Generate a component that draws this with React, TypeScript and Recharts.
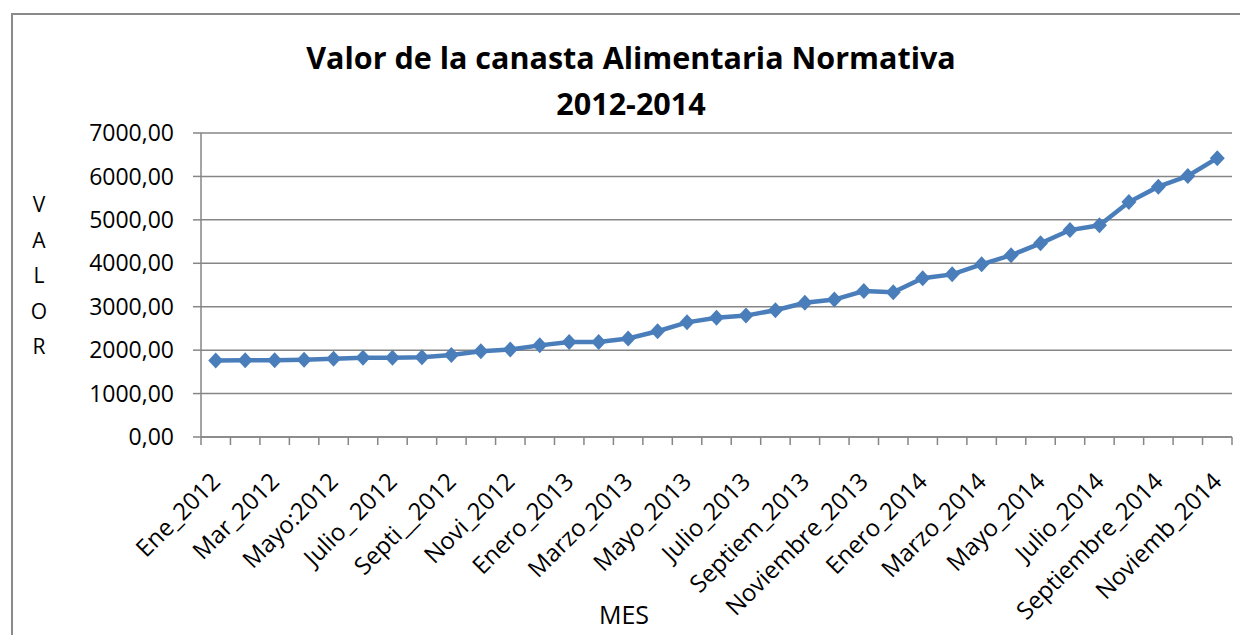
import { LineChart, Line, XAxis, YAxis, CartesianGrid } from "recharts";

const months = [
  "Ene_2012", "Feb_2012", "Mar_2012", "Abr_2012", "Mayo:2012", "Jun_2012",
  "Julio_ 2012", "Ago_2012", "Septi__2012", "Oct_2012", "Novi_2012", "Dic_2012",
  "Enero_2013", "Febrero_2013", "Marzo_2013", "Abril_2013", "Mayo_2013", "Junio_2013",
  "Julio_2013", "Agosto_2013", "Septiem_2013", "Octubre_2013", "Noviembre_2013", "Diciembre_2013",
  "Enero_2014", "Febrero_2014", "Marzo_2014", "Abril_2014", "Mayo_2014", "Junio_2014",
  "Julio_2014", "Agosto_2014", "Septiembre_2014", "Octubre_2014", "Noviemb_2014",
];

const valores = [
  1760, 1765, 1765, 1780, 1800, 1825, 1825, 1835, 1890, 1975, 2015, 2110,
  2190, 2190, 2270, 2435, 2640, 2745, 2795, 2920, 3090, 3165, 3360, 3335,
  3655, 3745, 3975, 4185, 4460, 4765, 4875, 5410, 5765, 6010, 6420,
];

const yTicks = [0, 1000, 2000, 3000, 4000, 5000, 6000, 7000];

const data = months.map((mes, i) => ({ mes, valor: valores[i] }));

const FONT = "'Open Sans', sans-serif";
const GRAY = "#868686";
const BLUE = "#4a7ebb";

// plot box inside the 1240x635 svg
const PLOT_LEFT = 201;
const PLOT_RIGHT = 1232;
const PLOT_TOP = 133;
const PLOT_BOTTOM = 437;
const BAND = (PLOT_RIGHT - PLOT_LEFT) / months.length;

function formatValor(v: number) {
  return v.toFixed(2).replace(".", ",");
}

function MonthTick(props: any) {
  const { x, y, payload, index } = props;
  const last = index === months.length - 1;
  const tx = x + 6;
  const ty = y + 46;
  return (
    <g>
      <line x1={x - BAND / 2} y1={y} x2={x - BAND / 2} y2={y + 8} stroke={GRAY} strokeWidth={1.5} />
      {last && (
        <line x1={x + BAND / 2} y1={y} x2={x + BAND / 2} y2={y + 8} stroke={GRAY} strokeWidth={1.5} />
      )}
      {index % 2 === 0 && (
        <text
          x={tx}
          y={ty}
          transform={`rotate(-45, ${tx}, ${ty})`}
          textAnchor="end"
          fontFamily={FONT}
          fontSize={24}
          fill="#000"
        >
          {payload.value}
        </text>
      )}
    </g>
  );
}

function Diamond(props: any) {
  const { cx, cy, index } = props;
  if (cx == null || cy == null) return <g key={index} />;
  return (
    <path
      key={index}
      d={`M${cx},${cy - 8} L${cx + 7.5},${cy} L${cx},${cy + 8} L${cx - 7.5},${cy} Z`}
      fill={BLUE}
    />
  );
}

export default function App() {
  return (
    <div style={{ position: "absolute", left: 0, top: 0, width: 1240, height: 635, overflow: "hidden", background: "#fff" }}>
      <div
        style={{
          position: "absolute",
          left: 11,
          top: 13,
          width: 1300,
          height: 700,
          borderLeft: "2px solid #8a8a8a",
          borderTop: "2px solid #8a8a8a",
        }}
      />
      <div
        style={{
          position: "absolute",
          left: 11,
          top: 34,
          width: 1240,
          textAlign: "center",
          fontFamily: FONT,
          fontWeight: 700,
          fontSize: 30.5,
          lineHeight: "46px",
          color: "#000",
        }}
      >
        <div>Valor de la canasta Alimentaria Normativa</div>
        <div>2012-2014</div>
      </div>
      <div
        style={{
          position: "absolute",
          left: 27,
          top: 187,
          width: 24,
          textAlign: "center",
          fontFamily: FONT,
          fontSize: 21,
          lineHeight: "35.5px",
          color: "#000",
        }}
      >
        {"VALOR".split("").map((c) => (
          <div key={c}>{c}</div>
        ))}
      </div>
      <div
        style={{
          position: "absolute",
          left: 524,
          top: 597,
          width: 200,
          textAlign: "center",
          fontFamily: FONT,
          fontSize: 25,
          lineHeight: "34px",
          color: "#000",
        }}
      >
        MES
      </div>
      <div style={{ position: "absolute", left: 0, top: 0 }}>
        <LineChart
          width={1240}
          height={635}
          data={data}
          margin={{ top: PLOT_TOP, right: 1240 - PLOT_RIGHT, bottom: 0, left: 0 }}
        >
          <CartesianGrid vertical={false} stroke={GRAY} strokeWidth={1.5} />
          <XAxis
            dataKey="mes"
            scale="band"
            interval={0}
            height={635 - PLOT_BOTTOM}
            axisLine={{ stroke: GRAY, strokeWidth: 1.5 }}
            tickLine={false}
            tickSize={0}
            tickMargin={0}
            tick={<MonthTick />}
          />
          <YAxis
            width={PLOT_LEFT}
            domain={[0, 7000]}
            ticks={yTicks}
            tickFormatter={formatValor}
            axisLine={{ stroke: GRAY, strokeWidth: 1.5 }}
            tickLine={{ stroke: GRAY, strokeWidth: 1.5 }}
            tickSize={8}
            tickMargin={19}
            tick={{ fontFamily: FONT, fontSize: 23, fill: "#000" }}
          />
          <Line
            type="linear"
            dataKey="valor"
            stroke={BLUE}
            strokeWidth={4.5}
            dot={(p: any) => <Diamond {...p} />}
            activeDot={false}
            isAnimationActive={false}
          />
        </LineChart>
      </div>
    </div>
  );
}
